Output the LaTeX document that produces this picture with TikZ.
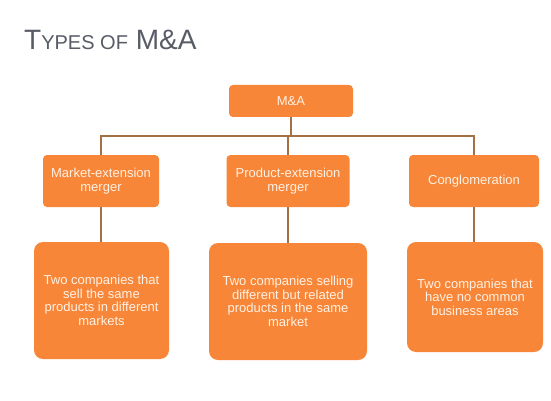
\documentclass[tikz,border=0pt]{standalone}
\usepackage{fontspec}
\setmainfont{Liberation Sans}
\usepackage{xcolor}
\usepackage{tikz}
\usetikzlibrary{calc}
\definecolor{boxorange}{RGB}{247, 134, 56}
\definecolor{linkbrown}{RGB}{165, 112, 68}
\definecolor{titlegray}{RGB}{88, 92, 102}
\definecolor{boxtext}{RGB}{255, 241, 228}

\tikzset{
  typebox/.style={fill=boxorange, rounded corners=4pt, text=boxtext, align=center,
    inner sep=0pt, font=\fontsize{13}{14}\selectfont},
  descbox/.style={typebox, rounded corners=9pt, font=\fontsize{13}{13.6}\selectfont},
  link/.style={draw=linkbrown, line width=1.3pt}
}

\begin{document}
\begin{tikzpicture}[x=1pt, y=-1pt]
  \useasboundingbox[fill=white] (0,0) rectangle (551,401);

  % Title
  \node[anchor=base west, inner sep=0pt, text=titlegray, font=\fontsize{28}{28}\selectfont] (title) at (24,50)
    {T{\fontsize{20}{20}\selectfont YPES OF} M\&A};

  % Top box
  \node[typebox, minimum width=124pt, minimum height=32pt] (ma) at (291,101) {M\&A};

  % Types
  \node[typebox, minimum width=116pt, minimum height=52pt] (market) at (101,181) {Market-extension\\merger};
  \node[typebox, minimum width=123pt, minimum height=52pt] (product) at (288,181) {Product-extension\\merger};
  \node[typebox, minimum width=130pt, minimum height=52pt] (conglo) at (474,181) {Conglomeration};

  % Descriptions
  \node[descbox, minimum width=135pt, minimum height=117pt] (marketdesc) at (101.5,300.5)
    {Two companies that\\sell the same\\products in different\\markets};
  \node[descbox, minimum width=158pt, minimum height=117pt] (productdesc) at (288,301.5)
    {Two companies selling\\different but related\\products in the same\\market};
  \node[descbox, minimum width=136pt, minimum height=110pt] (conglodesc) at (475,297)
    {Two companies that\\have no common\\business areas};

  % Links
  \coordinate (bus) at (291,136);
  \draw[link] (ma.south) -- (bus);
  \draw[link] (bus) -| (market.north);
  \draw[link] (bus) -| (product.north);
  \draw[link] (bus) -| (conglo.north);
  \draw[link] (market.south) -- (market.south |- marketdesc.north);
  \draw[link] (product.south) -- (product.south |- productdesc.north);
  \draw[link] (conglo.south) -- (conglo.south |- conglodesc.north);
\end{tikzpicture}
\end{document}
